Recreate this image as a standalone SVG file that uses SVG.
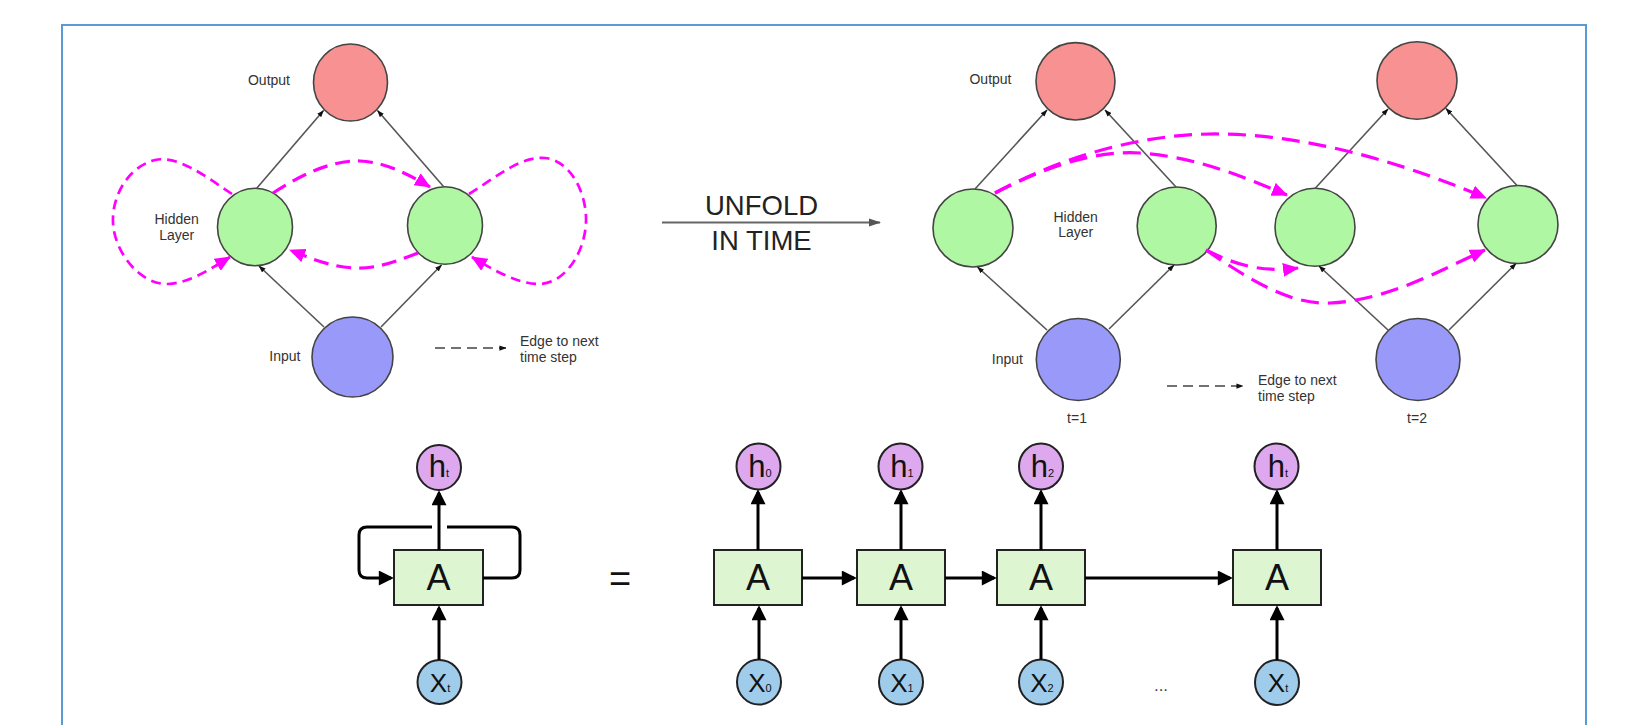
<svg xmlns="http://www.w3.org/2000/svg" width="1628" height="725" viewBox="0 0 1628 725">
  <style>
    .lbl { font-family: "Liberation Sans", Arial, sans-serif; font-size: 14px; fill: #333; }
    .big { font-family: "Liberation Sans", Arial, sans-serif; font-size: 27.5px; fill: #222; text-anchor: middle; }
    .out { fill: #F89191; stroke: #444; stroke-width: 1.6; }
    .hid { fill: #B0F7A4; stroke: #444; stroke-width: 1.6; }
    .inp { fill: #9999F9; stroke: #444; stroke-width: 1.6; }
    .edge { fill: none; stroke: #555; stroke-width: 1.6; marker-end: url(#tip); }
    .rec1 { fill: none; stroke: #FF00FF; stroke-width: 2.7; stroke-dasharray: 10 6; marker-end: url(#mag); }
    .rec2 { fill: none; stroke: #FF00FF; stroke-width: 3.2; stroke-dasharray: 15 8; marker-end: url(#mag); }
    .rec3 { fill: none; stroke: #FF00FF; stroke-width: 3.2; stroke-dasharray: 18 9; marker-end: url(#mag); }
    .key { fill: none; stroke: #444; stroke-width: 1.6; stroke-dasharray: 10 6; marker-end: url(#tip); }
    .cell { fill: #DEF5D2; stroke: #222; stroke-width: 2; }
    .hc { fill: #DDA8EE; stroke: #222; stroke-width: 2; }
    .xc { fill: #A0CCEC; stroke: #222; stroke-width: 2; }
    .flow { fill: none; stroke: #000; stroke-width: 3; }
    .arr { marker-end: url(#blk); }
    .cellA { font-family: "Liberation Sans", Arial, sans-serif; font-size: 36px; fill: #111; text-anchor: middle; }
    .hl { font-family: "Liberation Sans", Arial, sans-serif; font-size: 31px; fill: #111; text-anchor: middle; }
    .xl { font-family: "Liberation Sans", Arial, sans-serif; font-size: 26px; fill: #111; text-anchor: middle; }
    .sub { font-size: 11px; }
  </style>
  <defs>
    <marker id="mag" viewBox="0 0 16 14" refX="15" refY="7" markerWidth="16" markerHeight="14" markerUnits="userSpaceOnUse" orient="auto">
      <path d="M0,0 L16,7 L0,14 z" fill="#FF00FF"/>
    </marker>
    <marker id="tip" viewBox="0 0 8 6" refX="7.5" refY="3" markerWidth="7" markerHeight="5.5" markerUnits="userSpaceOnUse" orient="auto">
      <path d="M0,0 L8,3 L0,6 z" fill="#111"/>
    </marker>
    <marker id="gry" viewBox="0 0 12 8" refX="11" refY="4" markerWidth="12" markerHeight="8.5" markerUnits="userSpaceOnUse" orient="auto">
      <path d="M0,0 L12,4 L0,8 z" fill="#555"/>
    </marker>
    <marker id="blk" viewBox="0 0 16 16" refX="13" refY="8" markerWidth="16" markerHeight="15" markerUnits="userSpaceOnUse" orient="auto">
      <path d="M0,0 L16,8 L0,16 z" fill="#000"/>
    </marker>
  </defs>

  <!-- frame -->
  <rect x="62" y="25" width="1524" height="730" fill="#fff" stroke="#5B9BD5" stroke-width="2"/>

  <!-- folded network -->
  <g id="f-output"><ellipse class="out" cx="350.5" cy="82.5" rx="37" ry="38.5"/></g>
  <g id="f-hidden-1"><ellipse class="hid" cx="255" cy="227" rx="37.5" ry="38.8"/></g>
  <g id="f-hidden-2"><ellipse class="hid" cx="445" cy="225.5" rx="37.5" ry="38.8"/></g>
  <g id="f-input"><ellipse class="inp" cx="352.5" cy="357" rx="40.5" ry="40"/></g>
  <g id="f-labels">
    <text class="lbl" x="290" y="84.5" text-anchor="end">Output</text>
    <text class="lbl" x="176.7" y="224" text-anchor="middle">Hidden</text>
    <text class="lbl" x="176.7" y="239.5" text-anchor="middle">Layer</text>
    <text class="lbl" x="300.5" y="360.5" text-anchor="end">Input</text>
  </g>
  <g id="f-key">
    <path class="key" d="M435,348 H506"/>
    <text class="lbl" x="520" y="346">Edge to next</text>
    <text class="lbl" x="520" y="361.5">time step</text>
  </g>

  <!-- unfold arrow -->
  <g id="unfold">
    <path d="M662,222.5 H880" stroke="#666" stroke-width="2" fill="none" marker-end="url(#gry)"/>
    <text class="big" x="761.5" y="215">UNFOLD</text>
    <text class="big" x="761.5" y="250">IN TIME</text>
  </g>

  <!-- unfolded network -->
  <g id="u-output-1"><ellipse class="out" cx="1075.5" cy="81.3" rx="39.5" ry="38.7"/></g>
  <g id="u-output-2"><ellipse class="out" cx="1417" cy="80.5" rx="40" ry="38.7"/></g>
  <g id="u-hidden-1a"><ellipse class="hid" cx="973" cy="228" rx="40" ry="39"/></g>
  <g id="u-hidden-1b"><ellipse class="hid" cx="1176.7" cy="226" rx="39.5" ry="39"/></g>
  <g id="u-hidden-2a"><ellipse class="hid" cx="1315" cy="227.3" rx="40" ry="39"/></g>
  <g id="u-hidden-2b"><ellipse class="hid" cx="1518" cy="224.5" rx="40" ry="39"/></g>
  <g id="u-input-1"><ellipse class="inp" cx="1078.3" cy="359.5" rx="42" ry="41"/></g>
  <g id="u-input-2"><ellipse class="inp" cx="1418" cy="359.5" rx="42" ry="41"/></g>
  <g id="u-labels">
    <text class="lbl" x="1011.5" y="83.5" text-anchor="end">Output</text>
    <text class="lbl" x="1075.7" y="221.5" text-anchor="middle">Hidden</text>
    <text class="lbl" x="1075.7" y="237" text-anchor="middle">Layer</text>
    <text class="lbl" x="1023" y="364" text-anchor="end">Input</text>
    <text class="lbl" x="1077" y="423" text-anchor="middle">t=1</text>
    <text class="lbl" x="1417" y="423" text-anchor="middle">t=2</text>
  </g>
  <g id="u-key">
    <path class="key" d="M1167,386 H1243"/>
    <text class="lbl" x="1258" y="385">Edge to next</text>
    <text class="lbl" x="1258" y="400.5">time step</text>
  </g>

  <!-- rolled cell -->
  <g id="r-cell"><rect class="cell" x="394" y="550" width="89" height="55"/><text class="cellA" x="438.5" y="590">A</text></g>
  <g id="r-h"><ellipse class="hc" cx="439" cy="467.5" rx="22" ry="22.5"/><text class="hl" x="439" y="477">h<tspan class="sub">t</tspan></text></g>
  <g id="r-x"><ellipse class="xc" cx="439.5" cy="682" rx="22" ry="22"/><text class="xl" x="440" y="692">X<tspan class="sub">t</tspan></text></g>
  <text x="620" y="592" font-family="Liberation Sans, Arial, sans-serif" font-size="38" fill="#111" text-anchor="middle">=</text>

  <!-- unrolled cells -->
  <g id="c0"><rect class="cell" x="714" y="550" width="88" height="55"/><text class="cellA" x="758" y="590">A</text></g>
  <g id="c1"><rect class="cell" x="857" y="550" width="88" height="55"/><text class="cellA" x="901" y="590">A</text></g>
  <g id="c2"><rect class="cell" x="997" y="550" width="88" height="55"/><text class="cellA" x="1041" y="590">A</text></g>
  <g id="ct"><rect class="cell" x="1233" y="550" width="88" height="55"/><text class="cellA" x="1277" y="590">A</text></g>
  <g id="h0"><ellipse class="hc" cx="758.5" cy="466.5" rx="22" ry="23"/><text class="hl" x="760" y="477">h<tspan class="sub">0</tspan></text></g>
  <g id="h1"><ellipse class="hc" cx="900.5" cy="466.5" rx="22" ry="23"/><text class="hl" x="902" y="477">h<tspan class="sub">1</tspan></text></g>
  <g id="h2"><ellipse class="hc" cx="1041" cy="466.5" rx="22" ry="23"/><text class="hl" x="1042.5" y="477">h<tspan class="sub">2</tspan></text></g>
  <g id="ht"><ellipse class="hc" cx="1276.5" cy="466.5" rx="22" ry="23"/><text class="hl" x="1278" y="477">h<tspan class="sub">t</tspan></text></g>
  <g id="x0"><ellipse class="xc" cx="759" cy="682" rx="22" ry="22.5"/><text class="xl" x="760" y="692">X<tspan class="sub">0</tspan></text></g>
  <g id="x1"><ellipse class="xc" cx="901" cy="682" rx="22" ry="22.5"/><text class="xl" x="902" y="692">X<tspan class="sub">1</tspan></text></g>
  <g id="x2"><ellipse class="xc" cx="1041" cy="682" rx="22" ry="22.5"/><text class="xl" x="1042" y="692">X<tspan class="sub">2</tspan></text></g>
  <g id="xt"><ellipse class="xc" cx="1277" cy="682.5" rx="22" ry="22.5"/><text class="xl" x="1278" y="692">X<tspan class="sub">t</tspan></text></g>
  <text x="1161" y="691" font-family="Liberation Sans, Arial, sans-serif" font-size="17" fill="#444" text-anchor="middle">...</text>

  <!-- connectors -->
  <g id="connectors">
    <!-- folded: feed-forward -->
    <path class="edge" d="M256.5,188.5 L323.5,110.5"/>
    <path class="edge" d="M443.5,186.5 L377.5,110.5"/>
    <path class="edge" d="M324,327 L259,266"/>
    <path class="edge" d="M381,327 L441.5,265"/>
    <!-- folded: recurrent -->
    <path class="rec1" d="M232,194 C205,176 178,155 155,160 C128,167 112,196 113,222 C114,252 140,285 168,284 C190,283 212,268 230,257"/>
    <path class="rec1" d="M469,194 C495,178 520,156 545,158 C572,161 587,195 586,222 C585,252 565,285 537,284 C515,283 490,268 472,257"/>
    <path class="rec2" d="M273,193 C305,172 335,160 360,161 C385,162 410,175 430,187"/>
    <path class="rec2" d="M418,253 C395,262 375,269 355,268 C330,267 310,258 290,250"/>

    <!-- unfolded: feed-forward -->
    <path class="edge" d="M975,189 L1047,110"/>
    <path class="edge" d="M1176,187 L1105,110"/>
    <path class="edge" d="M1315,188.5 L1388,109"/>
    <path class="edge" d="M1517,185.5 L1446,108.5"/>
    <path class="edge" d="M1047,330 L977.5,267"/>
    <path class="edge" d="M1109,329 L1174,265"/>
    <path class="edge" d="M1388,330 L1319,266"/>
    <path class="edge" d="M1449,330 L1516,263.5"/>
    <!-- unfolded: edges to next time step -->
    <path class="rec3" d="M995,193 C1040,170 1090,150 1140,153 C1200,157 1250,180 1287,195"/>
    <path class="rec3" d="M995,193 C1060,158 1140,133 1220,134 C1320,135 1420,170 1486,198"/>
    <path class="rec3" d="M1206,250 C1232,263 1258,273 1298,268"/>
    <path class="rec3" d="M1206,250 C1250,280 1290,305 1330,303 C1390,300 1440,270 1485,250"/>

    <!-- rolled cell -->
    <path class="flow arr" d="M439,550 V493"/>
    <path class="flow arr" d="M439,660 V608"/>
    <path class="flow" d="M483,578 H512 Q520,578 520,570 V535 Q520,527 512,527 H447"/>
    <path class="flow arr" d="M432,527 H367 Q359,527 359,535 V570 Q359,578 367,578 H391"/>

    <!-- unrolled cells -->
    <path class="flow arr" d="M758,550 V492"/>
    <path class="flow arr" d="M901,550 V492"/>
    <path class="flow arr" d="M1041,550 V492"/>
    <path class="flow arr" d="M1277,550 V492"/>
    <path class="flow arr" d="M759,659.5 V608"/>
    <path class="flow arr" d="M901,659.5 V608"/>
    <path class="flow arr" d="M1041,659.5 V608"/>
    <path class="flow arr" d="M1277,660 V608"/>
    <path class="flow arr" d="M802,578 H854"/>
    <path class="flow arr" d="M945,578 H994"/>
    <path class="flow arr" d="M1085,578 H1230"/>
  </g>
</svg>
